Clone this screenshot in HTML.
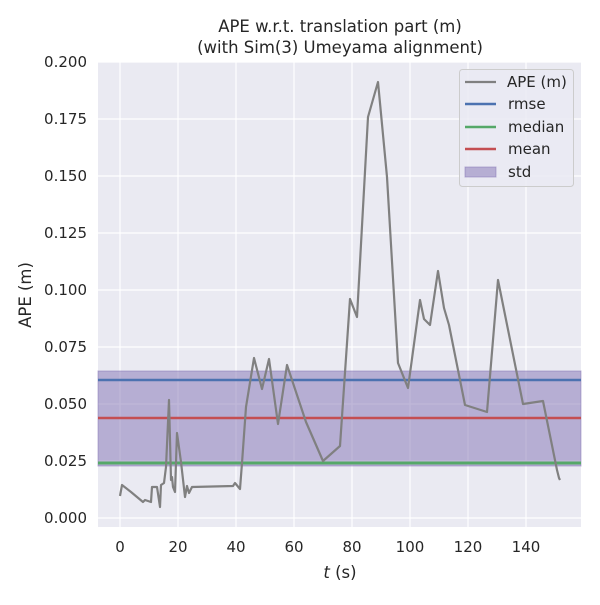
<!DOCTYPE html><html><head><style>body{margin:0;background:#fff}</style></head><body>
<svg width="600" height="600" xmlns="http://www.w3.org/2000/svg" font-family="DejaVu Sans, Liberation Sans, sans-serif">
<rect x="98" y="62" width="483" height="465" fill="#eaeaf2"/>
<g stroke="#fff" stroke-width="1.2">
<line x1="120" y1="62" x2="120" y2="527"/><line x1="178" y1="62" x2="178" y2="527"/><line x1="236" y1="62" x2="236" y2="527"/><line x1="294" y1="62" x2="294" y2="527"/><line x1="352" y1="62" x2="352" y2="527"/><line x1="410" y1="62" x2="410" y2="527"/><line x1="468" y1="62" x2="468" y2="527"/><line x1="526" y1="62" x2="526" y2="527"/>
<line x1="98" y1="518" x2="581" y2="518"/><line x1="98" y1="461" x2="581" y2="461"/><line x1="98" y1="404" x2="581" y2="404"/><line x1="98" y1="347" x2="581" y2="347"/><line x1="98" y1="290" x2="581" y2="290"/><line x1="98" y1="233" x2="581" y2="233"/><line x1="98" y1="176" x2="581" y2="176"/><line x1="98" y1="119" x2="581" y2="119"/><line x1="98" y1="62" x2="581" y2="62"/>
</g>
<rect x="98" y="371" width="483" height="95" fill="#8172b3" fill-opacity="0.5" stroke="#8172b3" stroke-opacity="0.5"/>
<line x1="98" y1="380" x2="581" y2="380" stroke="#4c72b0" stroke-width="2.5"/>
<line x1="98" y1="418" x2="581" y2="418" stroke="#c44e52" stroke-width="2.5"/>
<line x1="98" y1="463" x2="581" y2="463" stroke="#55a868" stroke-width="3"/>
<polyline fill="none" stroke="#808080" stroke-width="2.2" stroke-linejoin="round" points="120,496 122,485 131,492 143,502 145,500 151,502 152,487 157,487 160,507 161,485 164,483 166,467 169,400 171,480 172,477 173,487 175,492 177,433 181,462 185,497 187,486 189,493 192,487 233,486 235,483 240,489 242,463 246,407 254,358 262,389 269,359 278,424 287,365 306,422 323,461 340,446 350,299 357,317 368,117 378,82 387,177 398,363 408,388 420,300 424,319 430,325 438,271 444,308 449,325 465,405 487,412 498,280 523,404 543,401 557,470 559,478 560,480"/>
<g font-size="15" fill="#262626" text-anchor="end">
<text x="87" y="523">0.000</text><text x="87" y="466">0.025</text><text x="87" y="409">0.050</text><text x="87" y="352">0.075</text><text x="87" y="295">0.100</text><text x="87" y="238">0.125</text><text x="87" y="181">0.150</text><text x="87" y="124">0.175</text><text x="87" y="67">0.200</text>
</g>
<g font-size="15" fill="#262626" text-anchor="middle">
<text x="120" y="552">0</text><text x="178" y="552">20</text><text x="236" y="552">40</text><text x="294" y="552">60</text><text x="352" y="552">80</text><text x="410" y="552">100</text><text x="468" y="552">120</text><text x="526" y="552">140</text>
<text x="340" y="578" font-size="16.5"><tspan font-style="italic">t</tspan> (s)</text>
<text x="340" y="32" font-size="16.5">APE w.r.t. translation part (m)</text>
<text x="340" y="53" font-size="16.5">(with Sim(3) Umeyama alignment)</text>
</g>
<text transform="translate(31,295) rotate(-90)" font-size="16.5" fill="#262626" text-anchor="middle">APE (m)</text>
<rect x="459.5" y="69.5" width="114" height="117" rx="3" fill="#eaeaf2" fill-opacity="0.8" stroke="#ccc"/>
<line x1="465" y1="82" x2="496" y2="82" stroke="#808080" stroke-width="2.2"/>
<line x1="465" y1="104" x2="496" y2="104" stroke="#4c72b0" stroke-width="2.5"/>
<line x1="465" y1="127" x2="496" y2="127" stroke="#55a868" stroke-width="2.5"/>
<line x1="465" y1="149" x2="496" y2="149" stroke="#c44e52" stroke-width="2.5"/>
<rect x="465" y="167" width="31" height="10" fill="#8172b3" fill-opacity="0.5" stroke="#8172b3" stroke-opacity="0.5"/>
<g font-size="15" fill="#262626">
<text x="507" y="87">APE (m)</text><text x="508" y="109">rmse</text><text x="508" y="132">median</text><text x="508" y="154">mean</text><text x="508" y="177">std</text>
</g>
</svg>
</body></html>
